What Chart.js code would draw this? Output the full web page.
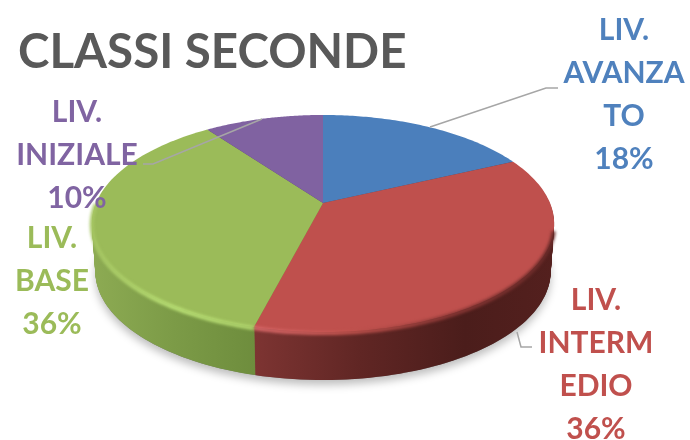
<!DOCTYPE html>
<html>
<head>
<meta charset="utf-8">
<script src="https://cdn.jsdelivr.net/npm/chart.js@4"></script>
<style>
  body { margin: 0; background: #fff; }
  canvas { display: block; }
</style>
</head>
<body>
<canvas id="chart" width="690" height="440"></canvas>
<script>
const categories = ['LIV. AVANZATO', 'LIV. INTERMEDIO', 'LIV. BASE', 'LIV. INIZIALE'];
const values = [18, 36, 36, 10];
const sliceLabels = [
  ['LIV.', 'AVANZA', 'TO', '18%'],
  ['LIV.', 'INTERM', 'EDIO', '36%'],
  ['LIV.', 'BASE', '36%'],
  ['LIV.', 'INIZIALE', '10%']
];

const colors = ['#4b7fbc', '#bf504d', '#9bbb59', '#8062a1'];
const labelColors = ['#4f81bd', '#c0504d', '#9bbb59', '#8064a2'];
const labelPos = [[624, 30], [596, 300], [52, 238], [77, 112]];
const leaders = [
  [[430, 127], [546, 88], [558, 88]],
  [[517, 332], [521, 347], [532, 347]],
  [],
  [[262, 119], [153, 164], [143, 164]]
];

// the pie is tilted in perspective, so the centre is not the middle of the ellipse
const cx = 323, depth = 48;
function project(t, dy, sx) {
  const u = Math.sin(t), v = -Math.cos(t);
  const w = 1 - 0.189 * v;
  return [cx + (sx || 1) * 227 * u / w, (66.3 * v + 203) / w + (dy || 0)];
}

function stops(g, list) {
  list.forEach(s => g.addColorStop(s[0], s[1]));
  return g;
}

function wedge(ctx, a, b, dy, sx) {
  ctx.beginPath();
  ctx.moveTo(cx, 203 + dy);
  for (let k = 0; k <= 80; k++) {
    const p = project(a + (b - a) * k / 80, dy, sx);
    ctx.lineTo(p[0], p[1]);
  }
  ctx.closePath();
}

const pie3d = {
  id: 'pie3d',
  beforeDatasetsDraw(chart) {
    const ctx = chart.ctx;
    const arcs = chart.getDatasetMeta(0).data;
    const t0 = a => a + Math.PI / 2;

    // soft shadow under the disc
    ctx.save();
    ctx.shadowColor = 'rgba(0,0,0,0.26)';
    ctx.shadowBlur = 8;
    ctx.shadowOffsetY = 5;
    ctx.fillStyle = '#777';
    wedge(ctx, 0, Math.PI * 2, depth, 0.985);
    ctx.fill();
    ctx.restore();

    const rimGrad = [
      stops(ctx.createLinearGradient(323, 0, 555, 0), [[0, '#355a85'], [1, '#2a4766']]),
      stops(ctx.createLinearGradient(255, 0, 555, 0), [[0, '#7d3432'], [0.35, '#602624'], [0.7, '#4b1d1b'], [1, '#54201e']]),
      stops(ctx.createLinearGradient(91, 0, 255, 0), [[0, '#8dab53'], [0.5, '#7c9b47'], [1, '#6e8d3d']]),
      stops(ctx.createLinearGradient(91, 0, 323, 0), [[0, '#55406e'], [1, '#55406e']])
    ];

    // side wall, stacked from the bottom up
    for (let dy = depth; dy > 0; dy--) {
      const sx = 1 - 0.015 * dy / depth;
      arcs.forEach((arc, i) => {
        wedge(ctx, t0(arc.startAngle), t0(arc.endAngle), dy, sx);
        ctx.fillStyle = rimGrad[i];
        ctx.fill();
      });
    }

    // top face
    arcs.forEach((arc, i) => {
      wedge(ctx, t0(arc.startAngle), t0(arc.endAngle), 0);
      ctx.fillStyle = colors[i];
      ctx.fill();
    });

    // bevel along the front edge only
    const front = Math.PI * 0.58, back = Math.PI * 1.5;
    const bevel = [
      null,
      stops(ctx.createLinearGradient(255, 0, 555, 0), [[0, '#d9696a'], [0.3, '#c4544f'], [0.65, '#8a3735'], [1, '#6a2b29']]),
      stops(ctx.createLinearGradient(91, 0, 255, 0), [[0, '#a6c663'], [0.5, '#bbe276'], [1, '#b2d66e']]),
      null
    ];
    arcs.forEach((arc, i) => {
      if (!bevel[i]) return;
      const a = Math.max(t0(arc.startAngle), front), b = Math.min(t0(arc.endAngle), back);
      ctx.save();
      ctx.filter = 'blur(1.5px)';
      ctx.beginPath();
      for (let k = 0; k <= 80; k++) {
        const p = project(a + (b - a) * k / 80, 1);
        k ? ctx.lineTo(p[0], p[1]) : ctx.moveTo(p[0], p[1]);
      }
      ctx.lineWidth = 4;
      ctx.strokeStyle = bevel[i];
      ctx.stroke();
      ctx.restore();
    });

    return false;
  },
  // afterDatasetsDraw does not fire once beforeDatasetsDraw returned false
  afterDraw(chart) {
    const ctx = chart.ctx;
    ctx.save();
    ctx.strokeStyle = '#a6a6a6';
    ctx.lineWidth = 1.5;
    leaders.forEach(line => {
      if (!line.length) return;
      ctx.beginPath();
      line.forEach((p, k) => k ? ctx.lineTo(p[0], p[1]) : ctx.moveTo(p[0], p[1]));
      ctx.stroke();
    });
    ctx.font = 'bold 30px Lato';
    ctx.textAlign = 'center';
    ctx.textBaseline = 'middle';
    sliceLabels.forEach((lines, i) => {
      ctx.fillStyle = labelColors[i];
      lines.forEach((txt, k) => ctx.fillText(txt, labelPos[i][0], labelPos[i][1] + k * 43));
    });
    ctx.restore();
  }
};

new Chart(document.getElementById('chart'), {
  type: 'pie',
  data: {
    labels: categories,
    datasets: [{ data: values, backgroundColor: colors, borderWidth: 0 }]
  },
  plugins: [pie3d],
  options: {
    responsive: false,
    animation: false,
    layout: { padding: { left: 18, top: 24 } },
    plugins: {
      legend: { display: false },
      tooltip: { enabled: false },
      title: {
        display: true,
        text: 'CLASSI SECONDE',
        align: 'start',
        color: '#595959',
        font: { family: 'Lato', size: 47.5, weight: 'bold' },
        padding: 0
      }
    }
  }
});
</script>
</body>
</html>
